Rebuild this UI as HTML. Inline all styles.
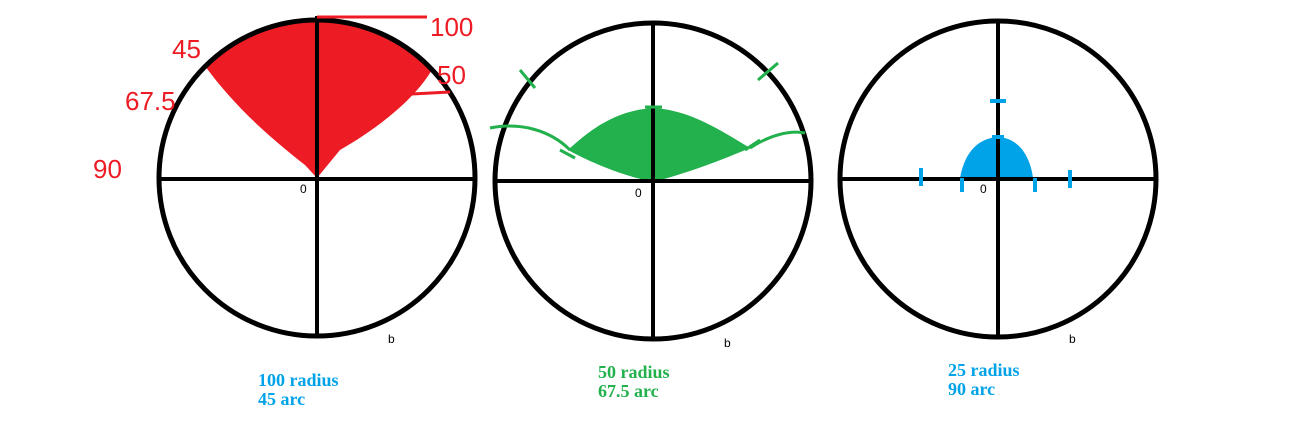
<!DOCTYPE html>
<html><head><meta charset="utf-8"><style>
html,body{margin:0;padding:0;background:#fff;width:1299px;height:422px;overflow:hidden}
svg{display:block}
.lbl{font-family:"Liberation Serif",serif;font-weight:bold;font-size:18px}
.hand{font-family:"Liberation Sans",sans-serif;font-size:26px;fill:#ed1c24}
</style></head><body>
<svg width="1299" height="422" viewBox="0 0 1299 422">
<g>
<path d="M317,178 L305,165 C260,130 230,100 205,66 A159,159 0 0 1 433,68 C415,100 375,130 340,150 Z" fill="#ed1c24"/>
<circle cx="317" cy="178" r="158" fill="none" stroke="#000" stroke-width="5"/>
<line x1="159" y1="179" x2="476" y2="179" stroke="#000" stroke-width="4"/>
<line x1="317" y1="16" x2="317" y2="335" stroke="#000" stroke-width="4"/>
<path d="M317,17 H427 M393,95 L450,92" stroke="#ed1c24" stroke-width="3" fill="none"/>
<text class="hand" x="430" y="36" font-size="30">100</text>
<text class="hand" x="437" y="84">50</text>
<text class="hand" x="172" y="58">45</text>
<text class="hand" x="125" y="110" font-size="22">67.5</text>
<text class="hand" x="93" y="178">90</text>
<text x="300" y="193" font-size="12" font-family="Liberation Sans">0</text>
<text x="388" y="343" font-size="12" font-family="Liberation Sans">b</text>
</g>
<g>
<path d="M568,150 C600,120 625,110 653,108 C690,110 720,130 750,148 C710,165 680,175 653,182 C620,175 590,162 568,150 Z" fill="#22b14c"/>
<circle cx="653" cy="181" r="158" fill="none" stroke="#000" stroke-width="5"/>
<line x1="494" y1="181" x2="812" y2="181" stroke="#000" stroke-width="4"/>
<line x1="653" y1="22" x2="653" y2="340" stroke="#000" stroke-width="4"/>
<path d="M490,128 C520,122 550,130 570,150 M750,148 C770,135 790,130 805,133 M520,70 L535,88 M758,80 L778,63 M560,150 L575,158 M745,150 L760,140 M645,107 H662" stroke="#22b14c" stroke-width="3" fill="none"/>
<text x="635" y="197" font-size="12" font-family="Liberation Sans">0</text>
<text x="724" y="347" font-size="12" font-family="Liberation Sans">b</text>
</g>
<g>
<path d="M960,178 C965,150 980,138 998,137 C1018,138 1030,155 1033,178 Z" fill="#00a2e8"/>
<circle cx="998" cy="179" r="158" fill="none" stroke="#000" stroke-width="5"/>
<line x1="839" y1="179" x2="1158" y2="179" stroke="#000" stroke-width="4"/>
<line x1="998" y1="19" x2="998" y2="337" stroke="#000" stroke-width="4"/>
<path d="M990,101 H1006 M921,168 V186 M1070,170 V188 M962,178 V192 M1035,178 V192 M992,137 H1004" stroke="#00a2e8" stroke-width="4" fill="none"/>
<text x="980" y="193" font-size="12" font-family="Liberation Sans">0</text>
<text x="1069" y="343" font-size="12" font-family="Liberation Sans">b</text>
</g>
<g>
<text class="lbl" fill="#00a2e8" x="258" y="386">100 radius</text>
<text class="lbl" fill="#00a2e8" x="258" y="405">45 arc</text>
<text class="lbl" fill="#22b14c" x="598" y="378">50 radius</text>
<text class="lbl" fill="#22b14c" x="598" y="397">67.5 arc</text>
<text class="lbl" fill="#00a2e8" x="948" y="376">25 radius</text>
<text class="lbl" fill="#00a2e8" x="948" y="395">90 arc</text>
</g>
</svg>
</body></html>
